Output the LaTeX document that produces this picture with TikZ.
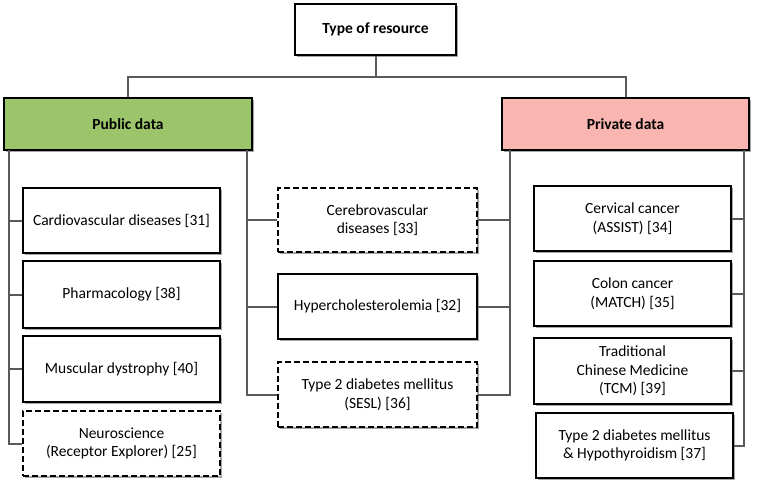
\documentclass[tikz,border=0pt]{standalone}
\usepackage{fontspec}
\setmainfont{Carlito}
\usetikzlibrary{shadows}
\definecolor{pubgreen}{HTML}{9BC46B}
\definecolor{privpink}{HTML}{F9B5AF}
\definecolor{linkgray}{HTML}{5A5A5A}
\begin{document}
\begin{tikzpicture}[x=1pt, y=-1pt, line width=2pt,
  box node/.style={rectangle, draw=black, line width=2.4pt, fill=white, inner sep=0pt, align=center,
    font=\fontsize{15.5}{18.5}\selectfont,
    drop shadow={shadow xshift=2pt, shadow yshift=-2pt, fill=black, opacity=0.35}},
  dashed node/.style={box node, dash pattern=on 6pt off 3pt},
  head node/.style={box node, font=\fontsize{15.5}{18.5}\selectfont\bfseries}]
\useasboundingbox (0,0) rectangle (759,489);
\begin{scope}[every node/.style={minimum width=197pt, minimum height=65pt}]
\node[head node, minimum width=161pt, minimum height=51pt] (top) at (375.5,29.5) {Type of resource};
\node[head node, fill=pubgreen, minimum width=248pt, minimum height=52pt] (pub) at (128,124) {Public data};
\node[head node, fill=privpink, minimum width=247pt, minimum height=52pt] (priv) at (625.5,124) {Private data};
\node[box node] (cardio) at (121.5,220.5) {Cardiovascular diseases [31]};
\node[box node, minimum height=67pt] (pharma) at (121.5,294.5) {Pharmacology [38]};
\node[box node, minimum height=66pt] (muscle) at (121.5,369) {Muscular dystrophy [40]};
\node[dashed node] (neuro) at (121.5,443.5) {Neuroscience\\(Receptor Explorer) [25]};
\node[dashed node, minimum width=199pt, minimum height=64pt] (cerebro) at (377.5,220) {Cerebrovascular\\diseases [33]};
\node[box node, minimum width=199pt] (hyper) at (377.5,306.5) {Hypercholesterolemia [32]};
\node[dashed node, minimum width=199pt] (sesl) at (377.5,394.5) {Type 2 diabetes mellitus\\(SESL) [36]};
\node[box node] (cervix) at (632.5,218.5) {Cervical cancer\\(ASSIST) [34]};
\node[box node] (colon) at (632.5,293.5) {Colon cancer\\(MATCH) [35]};
\node[box node, minimum height=66pt] (tcm) at (632.5,371) {Traditional\\Chinese Medicine\\(TCM) [39]};
\node[box node] (thyro) at (634.5,445.5) {Type 2 diabetes mellitus\\\& Hypothyroidism [37]};
\end{scope}
\coordinate (hub) at (375.5,77);
\coordinate (pl) at (9,150);
\coordinate (pr) at (247,150);
\coordinate (vl) at (510,150);
\coordinate (vr) at (744,150);
\begin{scope}[draw=linkgray]
\draw (top) -- (hub);
\draw (pub) |- (hub) -| (priv);
\draw (pl) |- (cardio);
\draw (pl) |- (pharma);
\draw (pl) |- (muscle);
\draw (pl) |- (neuro);
\draw (pr) |- (cerebro);
\draw (pr) |- (hyper);
\draw (pr) |- (sesl);
\draw (vl) |- (cerebro);
\draw (vl) |- (hyper);
\draw (vl) |- (sesl);
\draw (vr) |- (cervix);
\draw (vr) |- (colon);
\draw (vr) |- (tcm);
\draw (vr) |- (thyro);
\end{scope}
\end{tikzpicture}
\end{document}
